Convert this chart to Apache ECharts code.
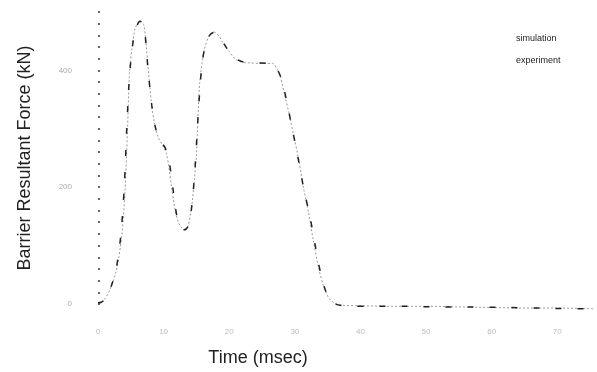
<!DOCTYPE html>
<html>
<head>
<meta charset="utf-8">
<script src="https://cdn.jsdelivr.net/npm/echarts@6/dist/echarts.min.js"></script>
<style>
  html, body { margin: 0; padding: 0; background: #fff; }
  #main { width: 597px; height: 372px; }
</style>
</head>
<body>
<div id="main"></div>
<script>
// time (msec) and force (kN)
var simTime = [0, 0.4, 1, 1.8, 2.8, 3.6, 4.1, 4.5, 4.8, 5.2, 5.6, 6.0, 6.4, 7.0, 7.6, 8.1, 8.6, 9.2, 9.9, 10.4, 10.8, 11.2, 11.7, 12.2, 12.7, 13.2, 13.7, 14.1, 14.4, 14.7, 15.0, 15.5, 16.2, 16.9, 17.6, 18.5, 19.0, 20, 21, 22, 23, 25, 26.6, 27.2, 27.8, 28.4, 29.1, 29.8, 30.6, 31.3, 32.1, 32.8, 33.6, 34.4, 35.2, 36, 37, 40, 45, 50, 55, 60, 65, 70, 75.6];
var simForce = [3, 2, 8, 24, 58, 115, 190, 300, 395, 440, 469, 480, 485, 477, 410, 349, 310, 285, 270, 258, 235, 201, 165, 141, 131, 128, 133, 155, 178, 215, 255, 378, 435, 458, 466, 458, 448, 432, 419, 414, 413, 412, 412, 404, 389, 360, 327, 290, 247, 200, 156, 110, 63, 30, 10, 2, -2, -3, -4, -4, -5, -6, -7, -7, -8];
var expTime = [0, 0.5, 1.2, 2, 2.8, 3.5, 4.0, 4.4, 4.8, 5.3, 5.8, 6.4, 7.0, 7.6, 8.2, 8.8, 9.5, 10.3, 10.9, 11.4, 12.0, 12.6, 13.2, 13.8, 14.3, 14.8, 15.3, 15.8, 16.3, 17.0, 17.7, 18.6, 19.4, 20.5, 22, 24, 26.5, 27.3, 28.0, 28.8, 29.6, 30.5, 31.4, 32.3, 33.2, 34.0, 35.0, 36.2, 38, 42, 47, 52, 57, 62, 67, 72, 75.6];
var expForce = [2, 3, 10, 30, 62, 120, 200, 305, 390, 445, 472, 484, 476, 405, 340, 300, 280, 266, 240, 200, 152, 133, 127, 135, 168, 235, 330, 405, 440, 460, 465, 457, 442, 424, 415, 413, 411, 402, 384, 345, 300, 250, 195, 150, 95, 50, 14, 0, -3, -4, -4, -5, -5, -6, -7, -8, -8];
var seriesNames = ['simulation', 'experiment'];
var yTickLabels = [0, 200, 400];

function pairs(xs, ys) {
  return xs.map(function (x, i) { return [x, ys[i]]; });
}

var chart = echarts.init(document.getElementById('main'));
chart.setOption({
  backgroundColor: '#fff',
  animation: false,
  grid: { left: 98, right: 0, top: 12, bottom: 68 },
  legend: {
    data: seriesNames,
    orient: 'vertical',
    left: 505,
    top: 29,
    itemWidth: 0,
    itemHeight: 0,
    itemGap: 13,
    textStyle: { fontFamily: 'Liberation Sans', fontSize: 9, color: '#222' }
  },
  xAxis: {
    type: 'value',
    min: 0,
    max: 75.6,
    interval: 10,
    name: 'Time (msec)',
    nameLocation: 'middle',
    nameGap: 45,
    nameTextStyle: { fontFamily: 'Liberation Sans', fontSize: 18, color: '#222', padding: [0, 176, 0, 0] },
    axisLine: { show: false },
    axisTick: { show: false },
    splitLine: { show: false },
    axisLabel: {
      margin: 24,
      fontSize: 8,
      color: '#bbb',
      formatter: function (v) { return v % 10 === 0 ? String(v) : ''; }
    }
  },
  yAxis: {
    type: 'value',
    min: 0,
    max: 500,
    interval: 20,
    name: 'Barrier Resultant Force (kN)',
    nameLocation: 'middle',
    nameGap: 64,
    nameTextStyle: { fontFamily: 'Liberation Sans', fontSize: 18, color: '#222' },
    axisLine: { show: false },
    axisTick: { show: true, inside: true, length: 2, lineStyle: { color: '#666', width: 2 } },
    splitLine: { show: false },
    axisLabel: {
      margin: 26,
      fontSize: 8,
      color: '#aaa',
      formatter: function (v) { return yTickLabels.indexOf(v) >= 0 ? String(v) : ''; }
    }
  },
  series: [
    {
      name: seriesNames[0],
      type: 'line',
      data: pairs(simTime, simForce),
      smooth: 0.3,
      clip: false,
      showSymbol: false,
      lineStyle: { color: '#9a9a9a', width: 1, type: [2, 2] },
      itemStyle: { color: '#9a9a9a' }
    },
    {
      name: seriesNames[1],
      type: 'line',
      data: pairs(expTime, expForce),
      smooth: 0.3,
      clip: false,
      showSymbol: false,
      lineStyle: { color: '#222', width: 1.5, type: [6, 16] },
      itemStyle: { color: '#222' }
    }
  ]
});
</script>
</body>
</html>
